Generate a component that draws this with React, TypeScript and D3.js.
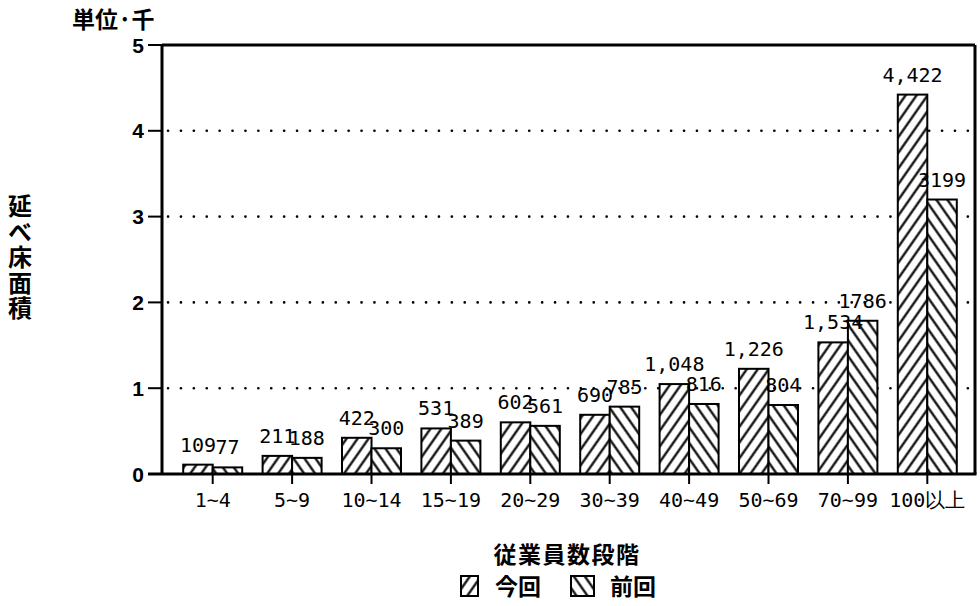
import React from "react";
import * as d3 from "d3";

const categories = ["1~4", "5~9", "10~14", "15~19", "20~29", "30~39", "40~49", "50~69", "70~99", "100以上"];
const seriesNames = ["今回", "前回"];
const current = [109, 211, 422, 531, 602, 690, 1048, 1226, 1534, 4422];
const previous = [77, 188, 300, 389, 561, 785, 816, 804, 1786, 3199];
const yTicks = [0, 1, 2, 3, 4, 5];
const gridTicks = [1, 2, 3, 4];

const W = 980;
const H = 606;
const left = 162;
const right = 975;
const top = 45;
const bottom = 474;

const MONO = "'DejaVu Sans Mono', 'Liberation Mono', monospace";
const SANS = "'Liberation Sans', Arial, sans-serif";
const JP = "'Noto Sans CJK JP', 'Noto Sans CJK SC', sans-serif";

export default function App() {
  const y = d3.scaleLinear().domain([0, 5]).range([bottom, top]);
  const x = d3.scaleBand<string>().domain(categories).range([173, 967]);
  const barW = 29.5;
  const x1 = d3
    .scaleBand<string>()
    .domain(seriesNames)
    .range([x.bandwidth() / 2 - barW, x.bandwidth() / 2 + barW]);
  const fmtCur = d3.format(",");
  const fmtPrev = d3.format("d");

  const series = [
    { name: "今回", values: current, fill: "url(#hatchR)", fmt: fmtCur },
    { name: "前回", values: previous, fill: "url(#hatchL)", fmt: fmtPrev },
  ];
  const legendItems = [
    { x: 461, w: 17, tx: 495 },
    { x: 571, w: 23, tx: 610 },
  ];

  return (
    <svg
      width={W}
      height={H}
      style={{ position: "absolute", left: 0, top: 0, background: "#fff" }}
    >
      <defs>
        <pattern id="hatchR" patternUnits="userSpaceOnUse" width="9" height="9" patternTransform="rotate(35)">
          <rect width="9" height="9" fill="#fff" />
          <line x1="4.5" y1="0" x2="4.5" y2="9" stroke="#000" strokeWidth="2.2" />
        </pattern>
        <pattern id="hatchL" patternUnits="userSpaceOnUse" width="9" height="9" patternTransform="rotate(-35)">
          <rect width="9" height="9" fill="#fff" />
          <line x1="4.5" y1="0" x2="4.5" y2="9" stroke="#000" strokeWidth="2.2" />
        </pattern>
      </defs>
      <rect width={W} height={H} fill="#fff" />

      {/* grid lines */}
      {gridTicks.map((t) => (
        <line
          key={"g" + t}
          x1={left + 6}
          x2={right - 4}
          y1={y(t)}
          y2={y(t)}
          stroke="#000"
          strokeWidth={2.6}
          strokeDasharray="0.1 12.8"
          strokeLinecap="round"
        />
      ))}

      {/* bars */}
      {series.map((s) =>
        s.values.map((v, i) => {
          const bx = (x(categories[i]) as number) + (x1(s.name) as number);
          const by = y(v / 1000);
          return (
            <rect
              key={s.name + i}
              x={bx}
              y={by}
              width={x1.bandwidth()}
              height={bottom - by}
              fill={s.fill}
              stroke="#000"
              strokeWidth={2}
            />
          );
        })
      )}

      {/* value labels */}
      {series.map((s) =>
        s.values.map((v, i) => {
          const bx = (x(categories[i]) as number) + (x1(s.name) as number) + x1.bandwidth() / 2;
          const by = y(v / 1000);
          return (
            <text
              key={"l" + s.name + i}
              x={bx}
              y={by - 13}
              textAnchor="middle"
              fontFamily={MONO}
              fontSize={20}
              fill="#000"
            >
              {s.fmt(v)}
            </text>
          );
        })
      )}

      {/* frame */}
      <line x1={left} x2={right} y1={top} y2={top} stroke="#000" strokeWidth={3} />
      <line x1={right} x2={right} y1={top} y2={bottom} stroke="#000" strokeWidth={3} />
      <line x1={left} x2={left} y1={top} y2={bottom} stroke="#000" strokeWidth={3} />
      <line x1={148} x2={right + 1.5} y1={bottom} y2={bottom} stroke="#000" strokeWidth={3} />

      {/* y ticks */}
      {yTicks.map((t) => (
        <g key={"yt" + t}>
          <line x1={148} x2={left} y1={y(t)} y2={y(t)} stroke="#000" strokeWidth={2} />
          <text
            x={144}
            y={y(t)}
            dy="0.36em"
            textAnchor="end"
            fontFamily={SANS}
            fontSize={21}
            fontWeight={700}
            fill="#000"
          >
            {t}
          </text>
        </g>
      ))}

      {/* x ticks */}
      {categories.map((c) => {
        const cx = (x(c) as number) + x.bandwidth() / 2;
        return (
          <g key={"xt" + c}>
            <line x1={cx} x2={cx} y1={bottom} y2={bottom + 10} stroke="#000" strokeWidth={2} />
            <text
              x={cx}
              y={bottom + 33}
              textAnchor="middle"
              fontFamily={MONO}
              fontSize={20}
              fill="#000"
            >
              {c}
            </text>
          </g>
        );
      })}

      {/* unit label */}
      <text x={72} y={28} fontFamily={JP} fontSize={23} fontWeight={700} fill="#000">
        単位·千
      </text>

      {/* y title */}
      <text
        x={20}
        y={194}
        fontFamily={JP}
        fontSize={24}
        fontWeight={700}
        letterSpacing={1.5}
        fill="#000"
        style={{ writingMode: "vertical-rl" as any }}
      >
        延べ床面積
      </text>

      {/* x title */}
      <text
        x={567}
        y={563}
        textAnchor="middle"
        fontFamily={JP}
        fontSize={23}
        fontWeight={700}
        letterSpacing={1.5}
        fill="#000"
      >
        従業員数段階
      </text>

      {/* legend */}
      {series.map((s, i) => {
        const it = legendItems[i];
        return (
          <g key={"lg" + s.name}>
            <rect x={it.x} y={576} width={it.w} height={20} fill={s.fill} stroke="#000" strokeWidth={2} />
            <text x={it.tx} y={595} fontFamily={JP} fontSize={23} fontWeight={700} fill="#000">
              {s.name}
            </text>
          </g>
        );
      })}
    </svg>
  );
}
